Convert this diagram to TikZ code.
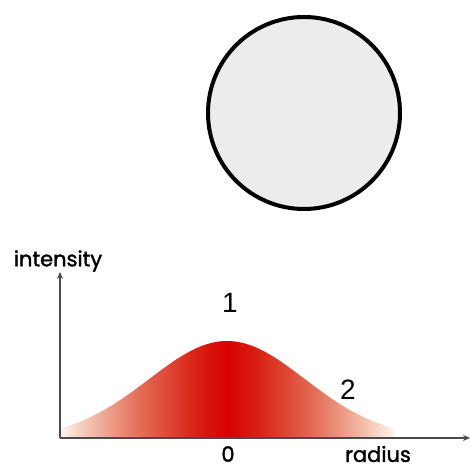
\documentclass[tikz,border=0pt]{standalone}
\usepackage{fontspec}
\setmainfont{Liberation Sans}
\newfontfamily\labelfont{Poppins}[FakeBold=1.5]
\usetikzlibrary{arrows.meta}
\definecolor{axisgray}{RGB}{75, 75, 75}
\definecolor{discgray}{RGB}{236, 236, 236}
\definecolor{peakred}{RGB}{215, 0, 0}
% the path box spans 25bp to 75bp of the shading
\pgfdeclarehorizontalshading{glow}{100bp}{
  color(0bp)=(white);
  color(25bp)=(rgb,255:red,254;green,244;blue,238);
  color(29bp)=(rgb,255:red,243;green,196;blue,178);
  color(37bp)=(rgb,255:red,228;green,108;blue,86);
  color(45.5bp)=(rgb,255:red,217;green,32;blue,20);
  color(50bp)=(peakred);
  color(54.5bp)=(rgb,255:red,217;green,32;blue,20);
  color(63bp)=(rgb,255:red,228;green,108;blue,86);
  color(71bp)=(rgb,255:red,243;green,196;blue,178);
  color(75bp)=(rgb,255:red,254;green,244;blue,238);
  color(100bp)=(white)}
\tikzset{
  axislabel/.style={font=\labelfont\fontsize{21}{21}\selectfont, inner sep=0pt},
  marklabel/.style={font=\fontsize{28}{28}\selectfont, inner sep=0pt},
}

\begin{document}
\begin{tikzpicture}[x=1pt, y=1pt]
    \useasboundingbox (0, 0) rectangle (470, 468);

    % Disc seen from the front
    \draw[line width=4pt, fill=discgray] (304, 355) circle (96);

    % Gaussian profile
    \shade[shading=glow] (60, 30) -- plot[domain=60:394, samples=80, smooth]
        (\x, {30 + 97*exp(-0.5*((\x-227)/78)^2)}) -- (394, 30) -- cycle;

    % Coordinate axes
    \draw[-{Stealth[length=7pt, width=6pt]}, line width=2.6pt, axisgray] (60, 30) -- (60, 196);
    \draw[-{Stealth[length=7pt, width=6pt]}, line width=2.6pt, axisgray] (60, 30) -- (470, 30);

    \node[axislabel] (intensity) at (58, 207) {intensity};
    \node[axislabel] (radius) at (378, 14) {radius};
    \node[axislabel] (zero) at (228, 14) {0};
    \node[marklabel] (peak) at (230, 165) {1};
    \node[marklabel] (tail) at (348, 78) {2};
\end{tikzpicture}
\end{document}
